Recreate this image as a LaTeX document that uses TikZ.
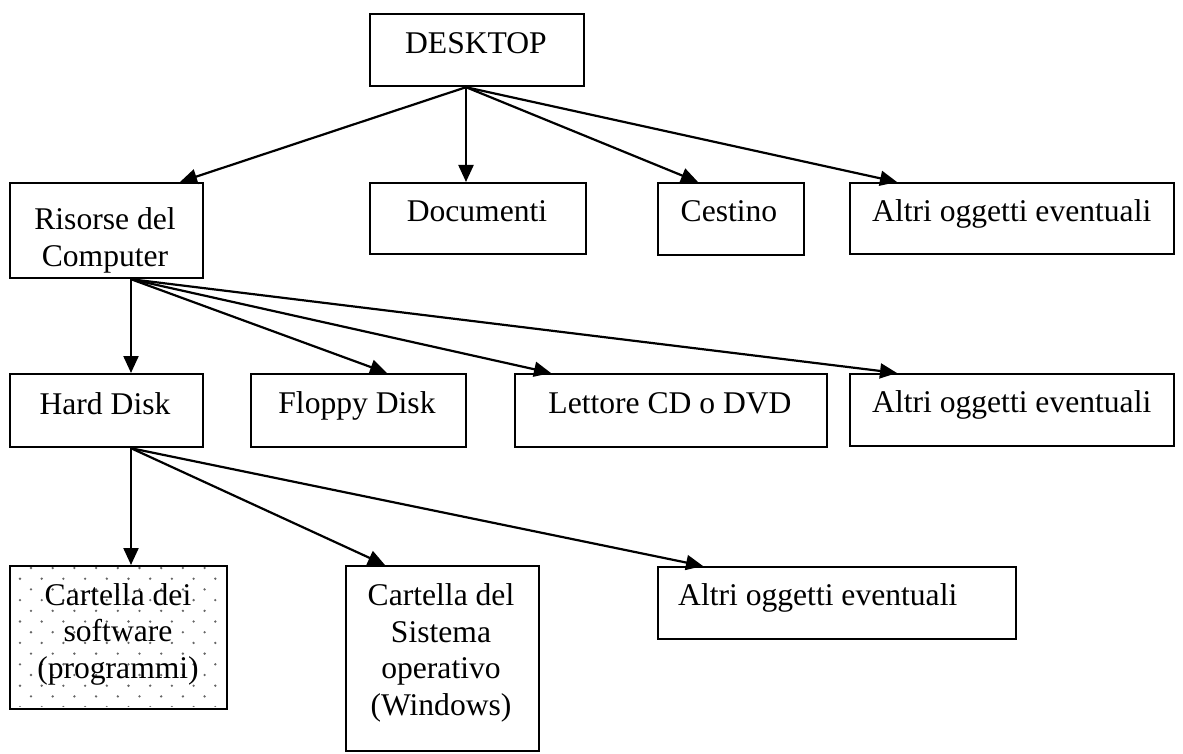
\documentclass[tikz,border=0pt]{standalone}
\usepackage{fontspec}
\setmainfont{Liberation Serif}
\usetikzlibrary{arrows.meta,calc}
\begin{document}
\begin{tikzpicture}[x=1pt,y=-1pt,
  box/.style={draw, line width=2.2pt, inner sep=0pt, anchor=north west},
  lbl/.style={font=\fontsize{31.6}{36.4}\selectfont, inner sep=0pt, align=center},
  arr/.style={line width=2.2pt, -{Triangle[length=17pt,width=15pt]}}]
\useasboundingbox (0,0) rectangle (1183,754);
% boxes
\node[box, minimum width=214pt, minimum height=72pt] (desk) at (369,13) {};
\node[box, minimum width=193pt, minimum height=95pt] (ris) at (9,182) {};
\node[box, minimum width=216pt, minimum height=71pt] (doc) at (369,182) {};
\node[box, minimum width=146pt, minimum height=72pt] (cest) at (657,182) {};
\node[box, minimum width=324pt, minimum height=71pt] (alt1) at (849,182) {};
\node[box, minimum width=193pt, minimum height=73pt] (hd) at (9,373) {};
\node[box, minimum width=215pt, minimum height=73pt] (flop) at (250,373) {};
\node[box, minimum width=312pt, minimum height=73pt] (lett) at (514,373) {};
\node[box, minimum width=324pt, minimum height=72pt] (alt2) at (849,373) {};
\node[box, minimum width=217pt, minimum height=143pt] (csw) at (9,565) {};
\node[box, minimum width=193pt, minimum height=185pt] (csys) at (345,565) {};
\node[box, minimum width=358pt, minimum height=72pt] (alt3) at (657,566) {};
% dotted fill
\begin{scope}
\clip (11,567) rectangle (224,706);
\foreach \r in {0,...,6}{
  \foreach \c in {0,...,10}{
    \fill[black!60] (31+\c*21.7, 568+\r*21.4) circle (1.3);
    \fill[black!60] (20+\c*21.7, 578.7+\r*21.4) circle (1.3);
  }
}
\end{scope}
% labels
\node[lbl, anchor=base] (tdesk) at (476,54) {DESKTOP};
\node[lbl, anchor=base] (tris) at (105,266) {Risorse del\\Computer};
\node[lbl, anchor=base] (tdoc) at (477,222) {Documenti};
\node[lbl, anchor=base] (tcest) at (729,222) {Cestino};
\node[lbl, anchor=base west] (ta1) at (872,222) {Altri oggetti eventuali};
\node[lbl, anchor=base] (thd) at (105,414) {Hard Disk};
\node[lbl, anchor=base] (tfl) at (357,413) {Floppy Disk};
\node[lbl, anchor=base] (tle) at (670,413) {Lettore CD o DVD};
\node[lbl, anchor=base west] (ta2) at (872,412) {Altri oggetti eventuali};
\node[lbl, anchor=base] (tcs) at (118,678) {Cartella dei\\software\\(programmi)};
\node[lbl, anchor=base] (tsys) at (441,715) {Cartella del\\Sistema\\operativo\\(Windows)};
\node[lbl, anchor=base west] (ta3) at (678,605) {Altri oggetti eventuali};
% arrows
\coordinate (s1) at ($(desk.south west)+(97,0)$);
\draw[arr] (s1) -- ($(ris.north west)+(171,0)$);
\draw[arr] (s1) -- ($(doc.north west)+(97,0)$);
\draw[arr] (s1) -- ($(cest.north west)+(41,0)$);
\draw[arr] (s1) -- ($(alt1.north west)+(48,0)$);
\coordinate (s2) at ($(ris.south west)+(122,0)$);
\draw[arr] (s2) -- ($(hd.north west)+(122,0)$);
\draw[arr] (s2) -- ($(flop.north west)+(137,0)$);
\draw[arr] (s2) -- ($(lett.north west)+(37,0)$);
\draw[arr] (s2) -- ($(alt2.north west)+(48,0)$);
\coordinate (s3) at ($(hd.south west)+(122,0)$);
\draw[arr] (s3) -- ($(csw.north west)+(122,0)$);
\draw[arr] (s3) -- ($(csys.north west)+(40,0)$);
\draw[arr] (s3) -- ($(alt3.north west)+(46,0)$);
\end{tikzpicture}
\end{document}
